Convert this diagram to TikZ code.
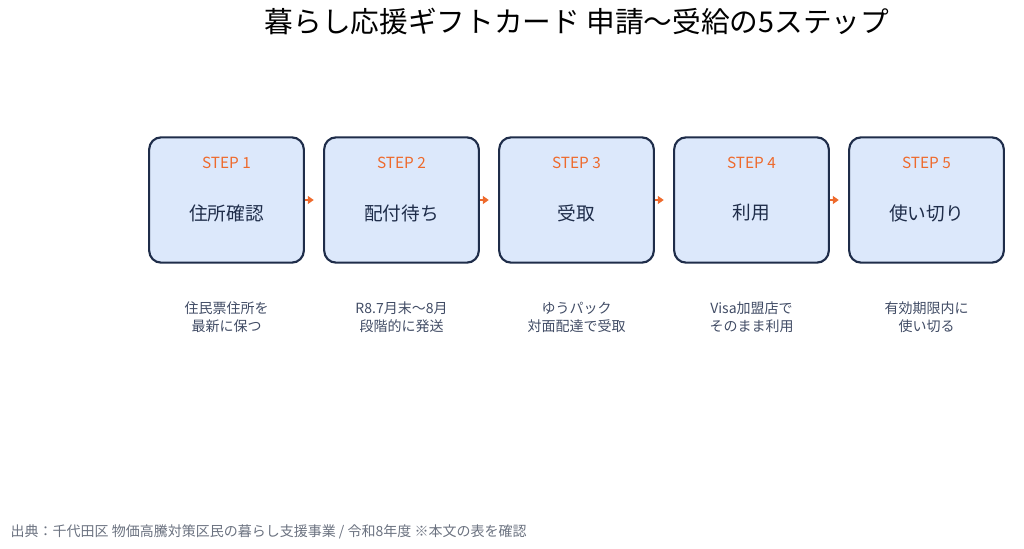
\documentclass[tikz,border=0pt]{standalone}
\usepackage{fontspec}
\usetikzlibrary{arrows.meta}
\setmainfont{Noto Sans CJK JP}
\definecolor{boxfill}{HTML}{DCE8FB}
\definecolor{boxline}{HTML}{1F2D4A}
\definecolor{stepc}{HTML}{EE6A2C}
\definecolor{txt}{HTML}{1F2D4A}
\definecolor{foot}{HTML}{6B7280}
\begin{document}
\begin{tikzpicture}[x=0.75pt,y=-0.75pt,
  box/.style={draw=boxline,line width=1.6pt,fill=boxfill,rounded corners=9pt,minimum width=116pt,minimum height=94pt,inner sep=0pt},
  stepl/.style={text=stepc,font=\fontsize{11.5pt}{13pt}\selectfont},
  lab/.style={text=txt,font=\fontsize{14pt}{16pt}\selectfont},
  desc/.style={text=txt!85,font=\fontsize{10.5pt}{13.5pt}\selectfont,align=center},
  arr/.style={-{Triangle[length=4.5pt,width=6pt]},stepc,line width=2pt}]
\useasboundingbox (0,0) rectangle (1024,549);
\node[text=black,font=\fontsize{21.5pt}{24pt}\selectfont] (title) at (577,21) {暮らし応援ギフトカード 申請〜受給の5ステップ};
\foreach \i/\s/\l/\d in {1/STEP 1/住所確認/{住民票住所を\\最新に保つ},2/STEP 2/配付待ち/{R8.7月末〜8月\\段階的に発送},3/STEP 3/受取/{ゆうパック\\対面配達で受取},4/STEP 4/利用/{Visa加盟店で\\そのまま利用},5/STEP 5/使い切り/{有効期限内に\\使い切る}}{
  \pgfmathsetmacro\cx{226.5+175*(\i-1)}
  \node[box] (b\i) at (\cx,200) {};
  \node[stepl] (s\i) at (\cx,163) {\s};
  \node[lab] (l\i) at (\cx,213) {\l};
  \node[desc] (d\i) at (\cx,317) {\d};
}
\foreach \a/\b in {1/2,2/3,3/4,4/5}{\draw[arr] (b\a.east) -- ([xshift=-7pt]b\b.west);}
\node[anchor=west,text=foot,font=\fontsize{10.5pt}{12pt}\selectfont] (ft) at (6,532) {出典：千代田区 物価高騰対策区民の暮らし支援事業 / 令和8年度 ※本文の表を確認};
\end{tikzpicture}
\end{document}
